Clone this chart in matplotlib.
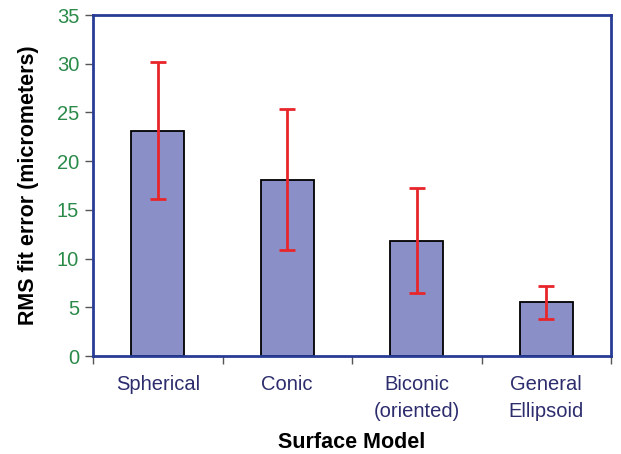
import matplotlib
matplotlib.use("Agg")
import matplotlib.pyplot as plt
import numpy as np

categories = ["Spherical", "Conic", "Biconic\n(oriented)", "General\nEllipsoid"]
rms_error = [23.1, 18.1, 11.8, 5.5]
err_lower = [7.0, 7.2, 5.3, 1.7]
err_upper = [7.1, 7.3, 5.4, 1.7]
y_ticks = [0, 5, 10, 15, 20, 25, 30, 35]

plt.rcParams['font.family'] = ['Liberation Sans', 'DejaVu Sans']

fig = plt.figure(figsize=(6.21, 4.54), dpi=100)
ax = fig.add_axes([93/621, 1-356/454, (611-93)/621, (356-15)/454])

x = np.arange(len(categories))
ax.bar(x, rms_error, width=0.41, color='#8a8fc8', edgecolor='black', linewidth=1.3, zorder=2)
ax.errorbar(x, rms_error, yerr=[err_lower, err_upper], fmt='none', ecolor='#e8262a',
            elinewidth=2, capsize=5.5, capthick=2, zorder=3)

ax.set_xlim(-0.5, len(categories) - 0.5)
ax.set_ylim(0, 35)
ax.set_yticks(y_ticks)
ax.set_yticklabels([str(v) for v in y_ticks], color='#2a8a4a', fontsize=14.5)
ax.set_xticks(x)
ax.set_xticklabels(categories, color='#2d2d6e', fontsize=14.5, linespacing=1.5)
ax.set_xticks(np.arange(len(categories) + 1) - 0.5, minor=True)
ax.tick_params(axis='x', which='major', length=0, pad=14, labelsize=14.5)
ax.tick_params(axis='x', which='minor', length=6, color='#555555', width=1)
ax.tick_params(axis='y', length=6, color='#555555', width=1, pad=4)

for s in ax.spines.values():
    s.set_color('#283c96')
    s.set_linewidth(2)

ax.set_ylabel("RMS fit error (micrometers)", fontsize=15.5, fontweight='bold', labelpad=13)
ax.set_xlabel("Surface Model", fontsize=15.5, fontweight='bold', labelpad=8)

fig.savefig("out.png", dpi=100)
